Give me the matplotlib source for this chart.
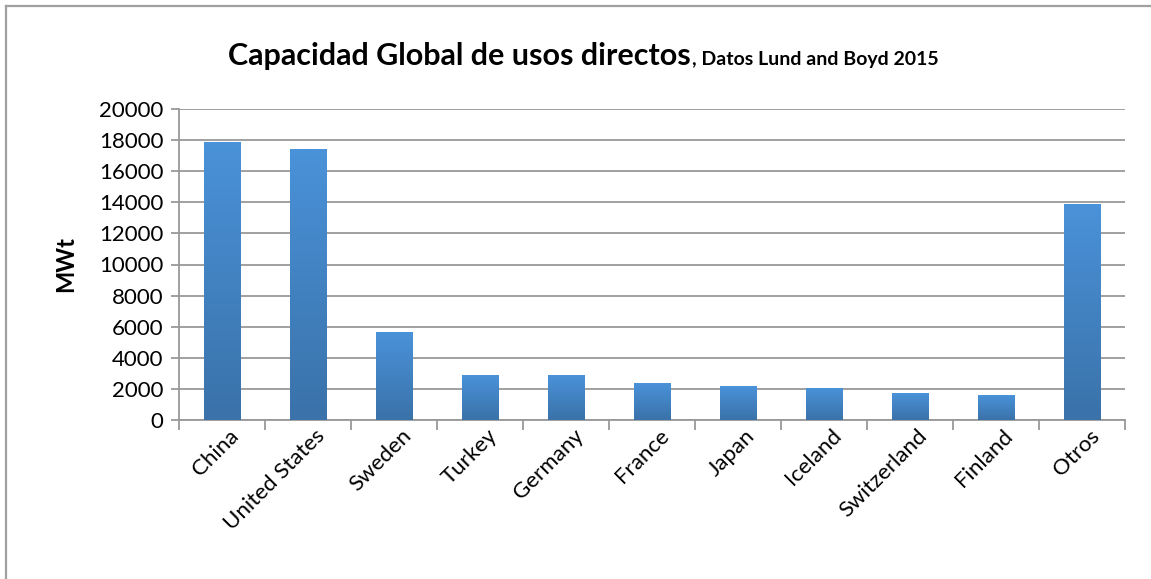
import numpy as np
import matplotlib
matplotlib.use("Agg")
import matplotlib.pyplot as plt
from matplotlib.colors import LinearSegmentedColormap
from matplotlib.lines import Line2D

plt.rcParams['font.family'] = ['Lato', 'DejaVu Sans']

# Direct-use capacity by country (MWt)
countries = ['China', 'United States', 'Sweden', 'Turkey', 'Germany', 'France',
             'Japan', 'Iceland', 'Switzerland', 'Finland', 'Otros']
capacity = [17870, 17415, 5600, 2886, 2849, 2347, 2186, 2040, 1733, 1560, 13830]
yticks = list(range(0, 20001, 2000))

W, H = 1151, 579
fig = plt.figure(figsize=(W / 100, H / 100), dpi=100)
ax = fig.add_axes([179 / W, 1 - 420 / H, (1125 - 179) / W, (420 - 109) / H])

# vertical gradient for the bars, light at top, darker at the base
grad = LinearSegmentedColormap.from_list('bar', ['#3a72a9', '#4a92d9'])
ramp = np.linspace(0, 1, 256).reshape(-1, 1)

x = np.arange(len(countries))
width = 0.42
bars = ax.bar(x, capacity, width=width, color='none', zorder=3)
for b in bars:
    x0, h = b.get_x(), b.get_height()
    ax.imshow(ramp, cmap=grad, origin='lower', aspect='auto',
              extent=[x0, x0 + width, 0, h], zorder=3)

ax.set_xlim(-0.5, len(countries) - 0.5)
ax.set_ylim(0, 20000)
ax.set_yticks(yticks)
ax.set_yticklabels([str(v) for v in yticks], fontsize=16)
ax.yaxis.grid(True, color='#999999', linewidth=1.3, zorder=0)
ax.set_axisbelow(True)

# category boundary ticks on the x axis, names centred under the bars
ax.set_xticks(np.arange(-0.5, len(countries), 1.0))
ax.set_xticklabels([])
ax.set_xticks(x + 0.08, minor=True)
ax.set_xticklabels(countries, minor=True, rotation=45, ha='right', va='top',
                   rotation_mode='anchor', fontsize=16)
ax.tick_params(axis='x', which='minor', length=0, pad=4)
ax.tick_params(axis='x', which='major', length=7, width=1.3, color='#999999')
ax.tick_params(axis='y', length=6, width=1.3, color='#999999', pad=5)

for side in ['top', 'right']:
    ax.spines[side].set_visible(False)
for side in ['left', 'bottom']:
    ax.spines[side].set_color('#999999')
    ax.spines[side].set_linewidth(1.3)

ax.set_ylabel('MWt', fontsize=17, fontweight='bold', labelpad=16)

# two-part title: large heading followed by a smaller source note
ty = 1 - 65 / H
t1 = fig.text(0, ty, 'Capacidad Global de usos directos',
              ha='left', va='baseline', fontsize=22, fontweight='bold')
t2 = fig.text(0, ty, ', Datos Lund and Boyd 2015',
              ha='left', va='baseline', fontsize=14, fontweight='bold')
fig.canvas.draw()
w1 = t1.get_window_extent().width
w2 = t2.get_window_extent().width
x_start = 583 - (w1 + w2) / 2
t1.set_x(x_start / W)
t2.set_x((x_start + w1 + 1) / W)

# chart frame
fig.add_artist(Line2D([6 / W, 6 / W], [0, 1 - 6 / H],
                      transform=fig.transFigure, color='#a0a0a0', linewidth=1.6))
fig.add_artist(Line2D([6 / W, 1], [1 - 6 / H, 1 - 6 / H],
                      transform=fig.transFigure, color='#a0a0a0', linewidth=1.6))

fig.savefig('out.png', dpi=100)
